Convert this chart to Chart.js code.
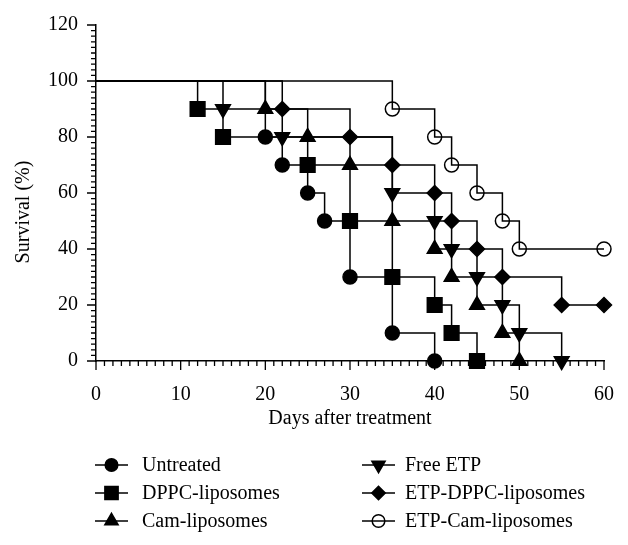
<!DOCTYPE html>
<html lang="en">
<head>
<meta charset="UTF-8">
<title>Survival</title>
<script src="https://cdn.jsdelivr.net/npm/chart.js@4/dist/chart.umd.min.js"></script>
<style>
  * { margin: 0; padding: 0; box-sizing: border-box; }
  body { background: #fff; }
  .chart-box { width: 628px; height: 545px; position: relative; }
</style>
</head>
<body>
<div class="chart-box"><canvas id="chartSurvival"></canvas></div>
<script>
// Kaplan-Meier steps: day of each drop and survival (%) after it
const untreatedDays = [0, 20, 22, 25, 27, 30, 35, 40];
const untreatedSurv = [100, 80, 70, 60, 50, 30, 10, 0];
const dppcDays = [0, 12, 15, 25, 30, 35, 40, 42, 45];
const dppcSurv = [100, 90, 80, 70, 50, 30, 20, 10, 0];
const camDays = [0, 20, 25, 30, 35, 40, 42, 45, 48, 50];
const camSurv = [100, 90, 80, 70, 50, 40, 30, 20, 10, 0];
const freeEtpDays = [0, 15, 22, 35, 40, 42, 45, 48, 50, 55];
const freeEtpSurv = [100, 90, 80, 60, 50, 40, 30, 20, 10, 0];
const etpDppcDays = [0, 22, 30, 35, 40, 42, 45, 48, 55, 60];
const etpDppcSurv = [100, 90, 80, 70, 60, 50, 40, 30, 20, 20];
const etpCamDays = [0, 35, 40, 42, 45, 48, 50, 60];
const etpCamSurv = [100, 90, 80, 70, 60, 50, 40, 40];

const seriesNames = ['Untreated', 'DPPC-liposomes', 'Cam-liposomes', 'Free ETP', 'ETP-DPPC-liposomes', 'ETP-Cam-liposomes'];
const xTickLabels = [0, 10, 20, 30, 40, 50, 60];
const yTickLabels = [0, 20, 40, 60, 80, 100, 120];

const FONT = '"Liberation Serif", "Times New Roman", serif';
Chart.defaults.font.family = FONT;
Chart.defaults.font.size = 20;
Chart.defaults.color = '#000';

const allDays = [untreatedDays, dppcDays, camDays, freeEtpDays, etpDppcDays, etpCamDays];
const allSurv = [untreatedSurv, dppcSurv, camSurv, freeEtpSurv, etpDppcSurv, etpCamSurv];

// marker look per group
const markers = [
  { pointStyle: 'circle', radius: 7, rotation: 0, fill: '#000' },
  { pointStyle: 'rect', radius: 10.4, rotation: 0, fill: '#000' },
  { pointStyle: 'triangle', radius: 8.5, rotation: 0, fill: '#000' },
  { pointStyle: 'triangle', radius: 8.5, rotation: 180, fill: '#000' },
  { pointStyle: 'rectRot', radius: 7.5, rotation: 0, fill: '#000' },
  { pointStyle: 'circle', radius: 7, rotation: 0, fill: 'rgba(0,0,0,0)' }
];

const datasets = seriesNames.map((name, i) => ({
  label: name,
  data: allDays[i].map((d, k) => ({ x: d, y: allSurv[i][k] })),
  stepped: 'before',
  borderColor: '#000',
  borderWidth: 1.5,
  pointStyle: markers[i].pointStyle,
  pointRotation: markers[i].rotation,
  pointRadius: ctx => ctx.dataIndex === 0 ? 0 : markers[i].radius,
  pointHoverRadius: ctx => ctx.dataIndex === 0 ? 0 : markers[i].radius,
  pointBackgroundColor: markers[i].fill,
  pointBorderColor: '#000',
  pointBorderWidth: 1.5,
  fill: false,
  clip: false
}));

// small and large tick marks on both axes
const tickMarks = {
  id: 'tickMarks',
  beforeDatasetsDraw(chart) {
    const { ctx, scales: { x, y }, chartArea } = chart;
    ctx.save();
    ctx.strokeStyle = '#000';
    ctx.lineWidth = 1.3;
    ctx.beginPath();
    for (let d = 0; d <= 60; d++) {
      const px = x.getPixelForValue(d);
      const len = d % 10 === 0 ? 9 : 5;
      ctx.moveTo(px, chartArea.bottom);
      ctx.lineTo(px, chartArea.bottom + len);
    }
    for (let v = 0; v <= 120; v += 2) {
      const py = y.getPixelForValue(v);
      const len = v % 20 === 0 ? 9 : 5;
      ctx.moveTo(chartArea.left, py);
      ctx.lineTo(chartArea.left - len, py);
    }
    ctx.stroke();
    ctx.restore();
  }
};

// y title and the two-column legend underneath
const extras = {
  id: 'extras',
  afterDraw(chart) {
    const { ctx } = chart;
    ctx.save();
    ctx.fillStyle = '#000';
    ctx.font = '20px ' + FONT;
    ctx.translate(24, 212);
    ctx.rotate(-Math.PI / 2);
    ctx.textAlign = 'center';
    ctx.textBaseline = 'middle';
    ctx.fillText('Survival (%)', 0, 0);
    ctx.restore();

    const lineStart = [95, 362];
    const textX = [142, 405];
    const rowY = [465, 493, 521];
    ctx.save();
    ctx.font = '20px ' + FONT;
    ctx.textBaseline = 'middle';
    ctx.textAlign = 'left';
    chart.data.datasets.forEach((ds, i) => {
      const col = Math.floor(i / 3), row = i % 3;
      const x0 = lineStart[col], y0 = rowY[row];
      ctx.strokeStyle = '#000';
      ctx.lineWidth = 1.5;
      ctx.beginPath();
      ctx.moveTo(x0, y0);
      ctx.lineTo(x0 + 33, y0);
      ctx.stroke();
      ctx.fillStyle = markers[i].fill;
      ctx.strokeStyle = '#000';
      Chart.helpers.drawPoint(ctx, {
        pointStyle: markers[i].pointStyle,
        rotation: markers[i].rotation,
        radius: markers[i].radius * 0.9,
        borderWidth: 1.5
      }, x0 + 16.5, y0);
      ctx.fillStyle = '#000';
      ctx.fillText(ds.label, textX[col], y0 + 1);
    });
    ctx.restore();
  }
};

new Chart(document.getElementById('chartSurvival'), {
  type: 'line',
  data: { datasets },
  options: {
    responsive: true,
    maintainAspectRatio: false,
    animation: false,
    layout: { padding: { top: 25, right: 22, bottom: 114, left: 0 } },
    plugins: { legend: { display: false }, tooltip: { enabled: false } },
    scales: {
      x: {
        type: 'linear',
        min: 0, max: 60,
        grid: { display: false },
        border: { display: true, color: '#000', width: 1.5 },
        afterBuildTicks: s => { s.ticks = xTickLabels.map(v => ({ value: v })); },
        afterFit: s => { s.height = 70; },
        ticks: { padding: 14, maxRotation: 0 },
        title: { display: true, text: 'Days after treatment', padding: { top: 0, bottom: 0 } }
      },
      y: {
        type: 'linear',
        min: 0, max: 120,
        grid: { display: false },
        border: { display: true, color: '#000', width: 1.5 },
        afterBuildTicks: s => { s.ticks = yTickLabels.map(v => ({ value: v })); },
        afterFit: s => { s.width = 96; },
        ticks: { padding: 10 }
      }
    }
  },
  plugins: [tickMarks, extras]
});
</script>
</body>
</html>
